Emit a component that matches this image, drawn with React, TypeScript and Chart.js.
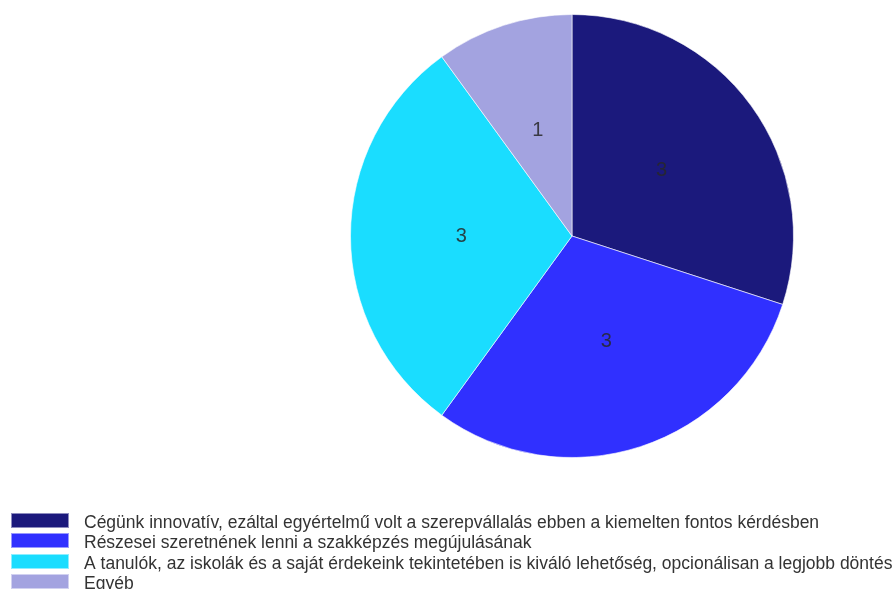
import React, { useEffect, useRef } from "react";
import { Chart, registerables } from "chart.js";

Chart.register(...registerables);

const categories: string[] = [
  "Cégünk innovatív, ezáltal egyértelmű volt a szerepvállalás ebben a kiemelten fontos kérdésben",
  "Részesei szeretnének lenni a szakképzés megújulásának",
  "A tanulók, az iskolák és a saját érdekeink tekintetében is kiváló lehetőség, opcionálisan a legjobb döntés",
  "Egyéb",
];
const values: number[] = [3, 3, 3, 1];
const colors: string[] = ["#1b197c", "#3030ff", "#1addff", "#a3a3e0"];

const FONT = "'Liberation Sans', Arial, sans-serif";

const sliceLabels = {
  id: "sliceLabels",
  afterDatasetsDraw(chart: any) {
    const ctx = chart.ctx as CanvasRenderingContext2D;
    const meta = chart.getDatasetMeta(0);
    ctx.save();
    ctx.font = `20px ${FONT}`;
    ctx.fillStyle = "rgba(40,40,40,0.85)";
    ctx.textAlign = "center";
    ctx.textBaseline = "middle";
    meta.data.forEach((arc: any, i: number) => {
      const { x, y, startAngle, endAngle, outerRadius } = arc.getProps(
        ["x", "y", "startAngle", "endAngle", "outerRadius"],
        true
      );
      const mid = (startAngle + endAngle) / 2;
      const r = outerRadius / 2;
      ctx.fillText(String(chart.data.datasets[0].data[i]), x + Math.cos(mid) * r, y + Math.sin(mid) * r);
    });
    ctx.restore();
  },
};

const customLegend = {
  id: "customLegend",
  afterDraw(chart: any) {
    const ctx = chart.ctx as CanvasRenderingContext2D;
    const labels: string[] = chart.data.labels;
    const bg: string[] = chart.data.datasets[0].backgroundColor;
    ctx.save();
    ctx.font = `17.5px ${FONT}`;
    ctx.textBaseline = "alphabetic";
    ctx.textAlign = "left";
    labels.forEach((lab, i) => {
      const top = Math.round(513 + i * 20.3);
      ctx.fillStyle = bg[i];
      ctx.fillRect(11, top, 58, 15);
      ctx.strokeStyle = "rgba(255,255,255,0.5)";
      ctx.lineWidth = 1;
      ctx.strokeRect(11.5, top + 0.5, 57, 14);
      ctx.fillStyle = "#333333";
      ctx.fillText(lab, 84, top + 14.5);
    });
    ctx.restore();
  },
};

export default function App() {
  const ref = useRef<HTMLCanvasElement | null>(null);
  useEffect(() => {
    if (!ref.current) return;
    const chart = new Chart(ref.current, {
      type: "pie",
      data: {
        labels: categories,
        datasets: [
          {
            data: values,
            backgroundColor: colors,
            borderColor: "rgba(255,255,255,0.6)",
            borderWidth: 1,
          },
        ],
      },
      options: {
        responsive: false,
        animation: false,
        layout: { padding: { left: 350, right: 100, top: 14, bottom: 131 } },
        plugins: {
          legend: { display: false },
          tooltip: { enabled: false },
        },
      },
      plugins: [sliceLabels, customLegend],
    });
    return () => chart.destroy();
  }, []);
  return (
    <div style={{ position: "absolute", left: 0, top: 0, width: 894, height: 589, background: "#fff" }}>
      <canvas ref={ref} width={894} height={589} style={{ display: "block" }} />
    </div>
  );
}
